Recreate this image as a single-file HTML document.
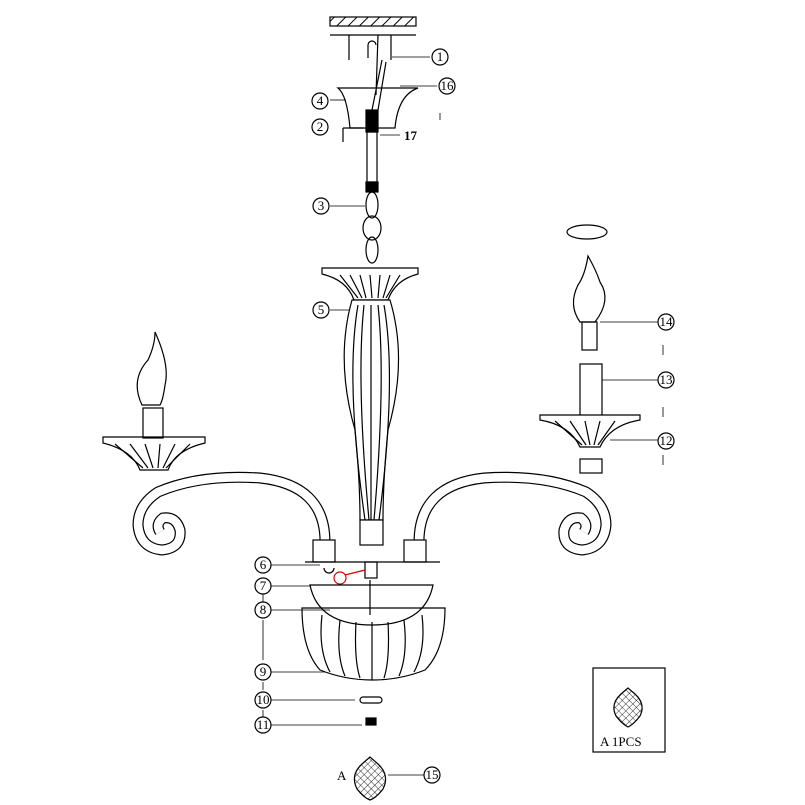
<!DOCTYPE html>
<html><head><meta charset="utf-8"><style>
html,body{margin:0;padding:0;background:#fff;}
svg{display:block;}
text{font-family:"Liberation Serif",serif;font-size:13px;fill:#000;}
</style></head><body>
<svg width="805" height="805" viewBox="0 0 805 805" xmlns="http://www.w3.org/2000/svg">
<defs>
<pattern id="h" width="8" height="8" patternUnits="userSpaceOnUse" patternTransform="rotate(45)"><line x1="0" y1="0" x2="0" y2="8" stroke="#000" stroke-width="2"/></pattern>
<pattern id="x" width="5" height="5" patternUnits="userSpaceOnUse" patternTransform="rotate(45)"><path d="M0 0 V5 M0 0 H5" stroke="#000" stroke-width="0.8"/></pattern>
<g id="arm">
<path d="M325 542 Q325 485 260 478 Q200 474 158 492 Q138 505 138 525 Q140 548 162 550 Q182 548 180 530 Q176 516 163 518 Q155 524 160 532" fill="none" stroke="#000" stroke-width="11" stroke-linecap="butt"/>
<path d="M325 542 Q325 485 260 478 Q200 474 158 492 Q138 505 138 525 Q140 548 162 550 Q182 548 180 530 Q176 516 163 518 Q155 524 160 532" fill="none" stroke="#fff" stroke-width="8.6"/>
</g>
</defs>
<use href="#arm"/>
<use href="#arm" transform="translate(744,0) scale(-1,1)"/>
<g fill="none" stroke="#000" stroke-width="1.2">
<rect x="330" y="17" width="86" height="9" fill="url(#h)"/>
<line x1="330" y1="35" x2="416" y2="35"/>
<line x1="349" y1="35" x2="349" y2="60"/><line x1="391" y1="35" x2="391" y2="60"/>
<path d="M368 58 V45 a4 4 0 0 1 8 0"/>
<line x1="392" y1="57" x2="430" y2="57" stroke-width="0.8"/>
<path d="M378 35 L376 95 M382 60 L372 110 M386 62 L378 110"/>
<path d="M338 88 L418 88 Q398 95 395 128 L350 128 Q347 95 338 88 Z"/>
<line x1="330" y1="100" x2="346" y2="100" stroke-width="0.8"/>
<line x1="400" y1="86" x2="437" y2="86" stroke-width="0.8"/>
<rect x="366" y="110" width="12" height="22" fill="#000"/>
<rect x="367" y="132" width="10" height="50"/>
<path d="M343 128 h20 M343 128 v14"/>
<line x1="380" y1="135" x2="400" y2="135" stroke-width="0.8"/>
<rect x="366" y="182" width="12" height="10" fill="#000"/>
<ellipse cx="372" cy="205" rx="6" ry="13"/><ellipse cx="372" cy="228" rx="9" ry="12"/><ellipse cx="372" cy="250" rx="6" ry="13"/>
<line x1="330" y1="206" x2="365" y2="206" stroke-width="0.8"/>
<path d="M322 268 H418 V274 Q395 280 388 300 H354 Q347 280 322 274 Z"/>
<path d="M340 275 L358 298 M350 275 L362 298 M360 275 L366 298 M370 275 L372 298 M380 275 L378 298 M390 275 L383 298 M400 275 L386 298"/>
<path d="M352 300 Q335 360 355 430 Q360 480 360 520 H383 Q383 480 388 430 Q408 360 390 300 Z" fill="#fff"/>
<path d="M358 305 Q345 380 365 520 M364 305 Q356 380 369 520 M371 305 V520 M378 305 Q386 380 374 520 M384 305 Q397 380 379 520"/>
<line x1="330" y1="310" x2="350" y2="310" stroke-width="0.8"/>
<rect x="360" y="520" width="23" height="25" fill="#fff"/>
<rect x="313" y="540" width="22" height="22" fill="#fff"/><rect x="404" y="540" width="22" height="22" fill="#fff"/>
<line x1="305" y1="562" x2="440" y2="562"/>
<line x1="270" y1="565" x2="320" y2="565" stroke-width="0.8"/>
<rect x="365" y="562" width="12" height="16"/>
<path d="M324 568 a5 5 0 1 0 10 0"/>
<circle cx="340" cy="578" r="6" stroke="#d00"/>
<line x1="345" y1="575" x2="365" y2="570" stroke="#d00"/>
<path d="M310 585 H433 Q425 625 372 625 Q318 625 310 585 Z"/>
<line x1="370" y1="580" x2="370" y2="615"/>
<line x1="270" y1="586" x2="310" y2="586" stroke-width="0.8"/>
<line x1="270" y1="610" x2="330" y2="610" stroke-width="0.8"/>
<path d="M302 608 H445 Q445 650 425 670 Q400 680 372 680 Q345 680 320 670 Q302 650 302 608 Z"/>
<path d="M322 615 Q318 650 330 672 M340 620 Q336 655 345 676 M356 622 Q354 660 360 678 M372 622 V680 M388 622 Q390 660 384 678 M404 620 Q408 655 399 676 M422 615 Q426 650 414 672"/>
<line x1="270" y1="672" x2="325" y2="672" stroke-width="0.8"/>
<rect x="360" y="697" width="22" height="6" rx="3"/>
<line x1="270" y1="700" x2="355" y2="700" stroke-width="0.8"/>
<rect x="366" y="718" width="10" height="7" fill="#000"/>
<line x1="270" y1="725" x2="362" y2="725" stroke-width="0.8"/>
<path d="M370 757 L362 764 Q350 775 357 789 Q364 798 370 800 Q376 798 383 789 Q390 775 378 764 Z" fill="url(#x)"/>
<line x1="388" y1="775" x2="425" y2="775" stroke-width="0.8"/>
<path d="M103 437 H205 V443 Q175 450 168 470 H140 Q132 450 103 443 Z" fill="#fff"/>
<path d="M115 444 L143 468 M130 444 L148 468 M145 444 L153 468 M160 444 L158 468 M175 444 L163 468 M190 444 L166 468"/>
<rect x="143" y="408" width="20" height="30"/>
<path d="M142 405 Q130 380 148 360 Q155 345 155 332 Q170 365 165 385 Q163 400 160 405 Z"/>
<ellipse cx="587" cy="232" rx="20" ry="7"/>
<path d="M588 256 Q585 275 578 285 Q568 305 580 322 L595 322 Q612 300 600 282 Q596 270 588 256 Z"/>
<rect x="582" y="322" width="15" height="28"/>
<line x1="600" y1="322" x2="660" y2="322" stroke-width="0.8"/>
<rect x="580" y="364" width="22" height="56"/>
<line x1="602" y1="380" x2="660" y2="380" stroke-width="0.8"/>
<path d="M540 415 H640 V420 Q610 425 600 447 H580 Q570 425 540 420 Z" fill="#fff"/>
<path d="M555 421 L582 445 M570 421 L586 445 M585 421 L590 445 M600 421 L594 445 M615 421 L598 445"/>
<line x1="610" y1="440" x2="660" y2="440" stroke-width="0.8"/>
<rect x="580" y="459" width="22" height="14" fill="#fff"/>
<rect x="593" y="668" width="72" height="84"/>
<path d="M628 688 L621 694 Q610 704 616 716 Q622 724 628 727 Q634 724 640 716 Q646 704 635 694 Z" fill="url(#x)"/>
<path d="M440 113 v7 M663 345 v10 M663 407 v10 M663 455 v10 M263 594 v8 M263 620 v40 M263 682 v8 M263 710 v7" stroke-width="0.8"/>
</g>
<g fill="#fff" stroke="#000" stroke-width="1.2">
<circle cx="440" cy="57" r="8"/><circle cx="447" cy="86" r="8"/><circle cx="320" cy="101" r="8"/><circle cx="320" cy="127" r="8"/>
<circle cx="321" cy="206" r="8"/><circle cx="321" cy="310" r="8"/><circle cx="666" cy="322" r="8"/><circle cx="666" cy="380" r="8"/>
<circle cx="666" cy="441" r="8"/><circle cx="263" cy="565" r="8"/><circle cx="263" cy="586" r="8"/><circle cx="263" cy="610" r="8"/>
<circle cx="263" cy="672" r="8"/><circle cx="263" cy="700" r="8"/><circle cx="263" cy="725" r="8"/><circle cx="432" cy="775" r="8"/>
</g>
<g text-anchor="middle" style="font-size:11px">
<text x="440" y="61">1</text><text x="447" y="90">16</text><text x="320" y="105">4</text><text x="320" y="131">2</text>
<text x="321" y="210">3</text><text x="321" y="314">5</text><text x="666" y="326">14</text><text x="666" y="384">13</text>
<text x="666" y="445">12</text><text x="263" y="569">6</text><text x="263" y="590">7</text><text x="263" y="614">8</text>
<text x="263" y="676">9</text><text x="263" y="704">10</text><text x="263" y="729">11</text><text x="432" y="779">15</text>
</g>
<text x="404" y="140" style="font-weight:bold">17</text>
<text x="337" y="780">A</text>
<text x="600" y="746">A  1PCS</text>
</svg>
</body></html>
